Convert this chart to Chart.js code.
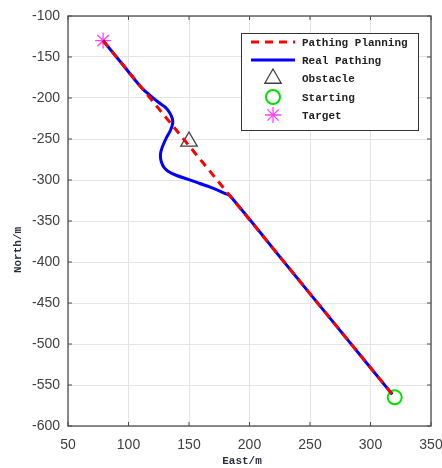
<!DOCTYPE html>
<html>
<head>
<meta charset="utf-8">
<script src="https://cdn.jsdelivr.net/npm/chart.js@4.4.1/dist/chart.umd.min.js"></script>
<style>
  html, body { margin: 0; padding: 0; background: #fff; }
  canvas { display: block; }
</style>
</head>
<body>
<canvas id="grafico" width="442" height="468"></canvas>
<script>
// valores (m)
const planEste = [79, 320];
const planNorte = [-130, -565];

const realEste = [79, 95, 111, 118, 125, 130.5, 134, 136.2, 136.5, 134.8, 131.5, 128.7, 126.8, 126.4, 127.2, 129.3, 133, 139.8, 150, 159, 168, 175.5, 180, 184, 230, 280, 318];
const realNorte = [-130, -158.9, -187.8, -197, -205.5, -211.5, -218, -225, -231, -239, -248, -257, -265, -271.6, -278, -284.5, -289.5, -294.5, -299.5, -304.3, -309, -313.5, -316.5, -319.5, -402.6, -492.8, -561.4];

const obstaculo = [150, -253];
const inicio = [320, -565];
const objetivo = [79, -130];

const ejeX = { min: 50, max: 350, paso: 50 };
const ejeY = { min: -600, max: -100, paso: 50 };

const nombres = ['Pathing Planning', 'Real Pathing', 'Obstacle', 'Starting', 'Target'];

const aPuntos = (xs, ys) => xs.map((x, i) => ({ x: x, y: ys[i] }));

const fuenteTexto = 'bold 11px "Liberation Mono", "DejaVu Sans Mono", monospace';

// leyenda, marco y ticks hacia dentro estilo matlab
const decorado = {
    id: 'decorado',
    afterDraw(chart) {
        const ctx = chart.ctx;
        const area = chart.chartArea;
        const sx = chart.scales.x;
        const sy = chart.scales.y;

        ctx.save();
        ctx.strokeStyle = '#4d4d4d';
        ctx.lineWidth = 1.3;
        ctx.strokeRect(area.left, area.top, area.right - area.left, area.bottom - area.top);

        ctx.lineWidth = 1;
        ctx.beginPath();
        sx.ticks.forEach(t => {
            const px = sx.getPixelForValue(t.value);
            ctx.moveTo(px, area.bottom); ctx.lineTo(px, area.bottom - 4);
            ctx.moveTo(px, area.top); ctx.lineTo(px, area.top + 4);
        });
        sy.ticks.forEach(t => {
            const py = sy.getPixelForValue(t.value);
            ctx.moveTo(area.left, py); ctx.lineTo(area.left + 4, py);
            ctx.moveTo(area.right, py); ctx.lineTo(area.right - 4, py);
        });
        ctx.stroke();

        // titulos de ejes
        ctx.fillStyle = '#2b2f3a';
        ctx.font = fuenteTexto;
        ctx.textAlign = 'center';
        ctx.textBaseline = 'middle';
        ctx.fillText('East/m', 242, 461);
        ctx.save();
        ctx.translate(18, 250);
        ctx.rotate(-Math.PI / 2);
        ctx.fillText('North/m', 0, 0);
        ctx.restore();

        // caja de leyenda
        const caja = { x: 241, y: 33, w: 177, h: 97 };
        ctx.fillStyle = '#fff';
        ctx.fillRect(caja.x, caja.y, caja.w, caja.h);
        ctx.strokeStyle = '#333';
        ctx.lineWidth = 1;
        ctx.strokeRect(caja.x + 0.5, caja.y + 0.5, caja.w, caja.h);

        const filas = [42, 60, 78.5, 97, 115];
        chart.data.datasets.forEach((ds, i) => {
            const fy = filas[i];
            ctx.save();
            if (ds.showLine) {
                ctx.strokeStyle = ds.borderColor;
                ctx.lineWidth = ds.borderWidth;
                ctx.setLineDash(ds.borderDash || []);
                ctx.beginPath();
                ctx.moveTo(251, fy);
                ctx.lineTo(295, fy);
                ctx.stroke();
            } else {
                ctx.strokeStyle = ds.borderColor;
                ctx.fillStyle = 'rgba(0,0,0,0)';
                ctx.lineWidth = ds.borderWidth;
                Chart.helpers.drawPoint(ctx, {
                    pointStyle: ds.pointStyle,
                    radius: ds.pointRadius,
                    rotation: 0,
                    borderWidth: ds.borderWidth
                }, 273, fy);
            }
            ctx.restore();
            ctx.fillStyle = '#222';
            ctx.font = fuenteTexto;
            ctx.textAlign = 'left';
            ctx.textBaseline = 'middle';
            ctx.fillText(ds.label, 302, fy + 1);
        });
        ctx.restore();
    }
};

new Chart(document.getElementById('grafico'), {
    type: 'scatter',
    data: {
        datasets: [
            {
                label: nombres[0],
                data: aPuntos(planEste, planNorte),
                showLine: true,
                borderColor: '#ff0000',
                borderWidth: 3,
                borderDash: [8, 6],
                pointRadius: 0
            },
            {
                label: nombres[1],
                data: aPuntos(realEste, realNorte),
                showLine: true,
                borderColor: '#0000ff',
                borderWidth: 3,
                tension: 0.35,
                pointRadius: 0
            },
            {
                label: nombres[2],
                data: [{ x: obstaculo[0], y: obstaculo[1] }],
                pointStyle: 'triangle',
                pointRadius: 9.5,
                borderColor: '#404040',
                backgroundColor: 'rgba(0,0,0,0)',
                borderWidth: 1.3
            },
            {
                label: nombres[3],
                data: [{ x: inicio[0], y: inicio[1] }],
                pointStyle: 'circle',
                pointRadius: 7,
                borderColor: '#00e000',
                backgroundColor: 'rgba(0,0,0,0)',
                borderWidth: 2
            },
            {
                label: nombres[4],
                data: [{ x: objetivo[0], y: objetivo[1] }],
                pointStyle: 'star',
                pointRadius: 8,
                borderColor: '#ff40ff',
                backgroundColor: 'rgba(0,0,0,0)',
                borderWidth: 1.3
            }
        ]
    },
    options: {
        responsive: false,
        animation: false,
        devicePixelRatio: 1,
        layout: { padding: { top: 16, right: 11, left: 0, bottom: 0 } },
        plugins: {
            legend: { display: false },
            tooltip: { enabled: false }
        },
        scales: {
            x: {
                type: 'linear',
                min: ejeX.min,
                max: ejeX.max,
                afterFit: s => {
                    s.height = 42;
                    s.paddingLeft = 0;
                    s.paddingRight = 0;
                },
                ticks: {
                    stepSize: ejeX.paso,
                    padding: 11,
                    color: '#404040',
                    font: { family: '"Liberation Sans", Arial, sans-serif', size: 14 }
                },
                grid: { color: '#e4e4e4', lineWidth: 1, drawTicks: false },
                border: { display: false }
            },
            y: {
                type: 'linear',
                min: ejeY.min,
                max: ejeY.max,
                afterFit: s => {
                    s.width = 68;
                    s.paddingTop = 0;
                    s.paddingBottom = 0;
                },
                ticks: {
                    stepSize: ejeY.paso,
                    padding: 8,
                    color: '#404040',
                    font: { family: '"Liberation Sans", Arial, sans-serif', size: 14 }
                },
                grid: { color: '#e4e4e4', lineWidth: 1, drawTicks: false },
                border: { display: false }
            }
        }
    },
    plugins: [decorado]
});
</script>
</body>
</html>
